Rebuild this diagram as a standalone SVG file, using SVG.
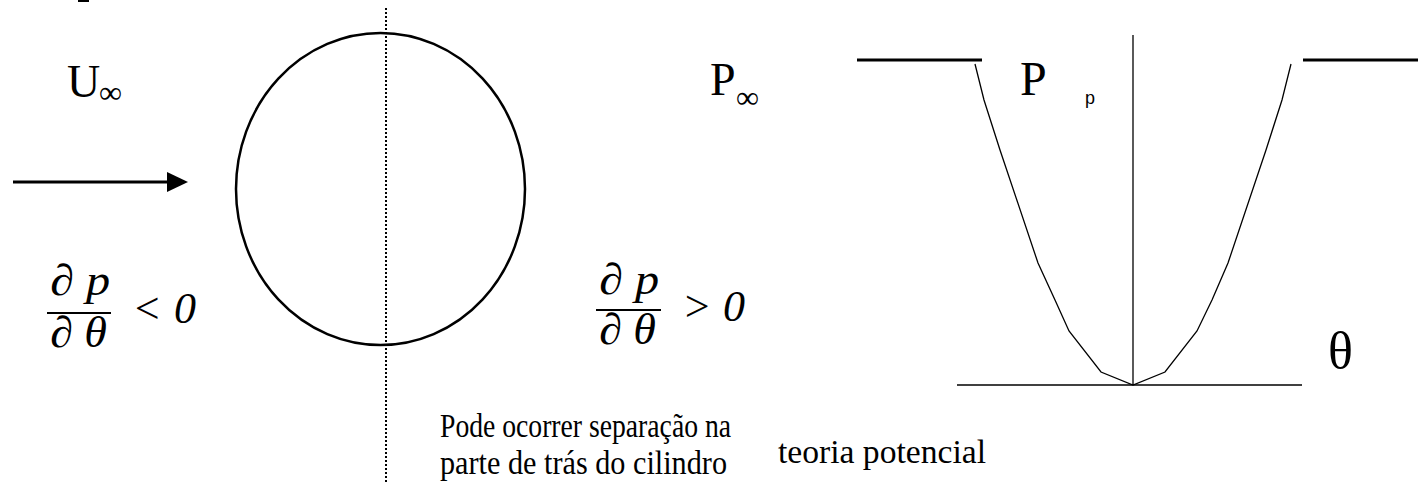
<svg xmlns="http://www.w3.org/2000/svg" width="1418" height="488" viewBox="0 0 1418 488">
<style>
.t{font-family:"Liberation Serif","Times New Roman",serif;fill:#000}
.i{font-family:"Liberation Serif","Times New Roman",serif;font-style:italic;fill:#000}
.s{font-family:"Liberation Sans",Arial,sans-serif;fill:#000}
.thin{stroke:#000;stroke-width:1.3;fill:none}
.thick{stroke:#000;stroke-width:3;fill:none}
</style>
<rect width="1418" height="488" fill="#fff"/>
<rect x="78" y="0" width="11" height="2" fill="#000"/>
<g id="cylinder">
<ellipse cx="380.5" cy="189" rx="144.5" ry="156" fill="none" stroke="#000" stroke-width="2.5"/>
<line x1="386" y1="8" x2="386" y2="484" stroke="#000" stroke-width="2" stroke-dasharray="2 2"/>
</g>
<g id="connectors">
<line x1="13" y1="182" x2="170" y2="182" stroke="#000" stroke-width="3"/>
<path d="M167,172 L188,182 L167,192 z" fill="#000"/>
</g>
<g id="labels-left">
<text class="t" x="67" y="97" font-size="46">U</text>
<text class="t" x="99" y="103" font-size="32">∞</text>
<text class="i" x="50" y="295" font-size="44" textLength="60" lengthAdjust="spacingAndGlyphs">∂ p</text>
<line x1="47" y1="313" x2="111" y2="313" stroke="#000" stroke-width="2"/>
<text class="i" x="50" y="347" font-size="44" textLength="57" lengthAdjust="spacingAndGlyphs">∂ θ</text>
<text class="i" x="132" y="323" font-size="44">&lt;</text>
<text class="i" x="174" y="323" font-size="44">0</text>
</g>
<g id="labels-right">
<text class="t" x="710" y="95" font-size="46">P</text>
<text class="t" x="736" y="108" font-size="32">∞</text>
<text class="i" x="599" y="294" font-size="44" textLength="60" lengthAdjust="spacingAndGlyphs">∂ p</text>
<line x1="596" y1="310" x2="661" y2="310" stroke="#000" stroke-width="2"/>
<text class="i" x="599" y="344" font-size="44" textLength="57" lengthAdjust="spacingAndGlyphs">∂ θ</text>
<text class="i" x="682" y="321" font-size="44">&gt;</text>
<text class="i" x="723" y="321" font-size="44">0</text>
<text class="t" x="440" y="437" font-size="34" textLength="291" lengthAdjust="spacingAndGlyphs">Pode ocorrer separação na</text>
<text class="t" x="440" y="474" font-size="34" textLength="287" lengthAdjust="spacingAndGlyphs">parte de trás do cilindro</text>
</g>
<g id="graph">
<line class="thin" x1="1133" y1="35" x2="1133" y2="385"/>
<line class="thin" x1="957" y1="385" x2="1302" y2="385"/>
<line class="thick" x1="857" y1="60" x2="982" y2="60"/>
<line class="thick" x1="1303" y1="60" x2="1418" y2="60"/>
<polyline class="thin" points="975,64 984,100 1000,150 1038,263 1055,300 1069,331 1101,372 1133,385 1165,372 1197,331 1212,300 1228,263 1266,150 1282,100 1291,64"/>
<text class="t" x="1020" y="95" font-size="48">P</text>
<text class="s" x="1085" y="104" font-size="18">p</text>
<text class="t" x="1328" y="368" font-size="52">θ</text>
<text class="t" x="778" y="463" font-size="34" textLength="208" lengthAdjust="spacingAndGlyphs">teoria potencial</text>
</g>
</svg>
